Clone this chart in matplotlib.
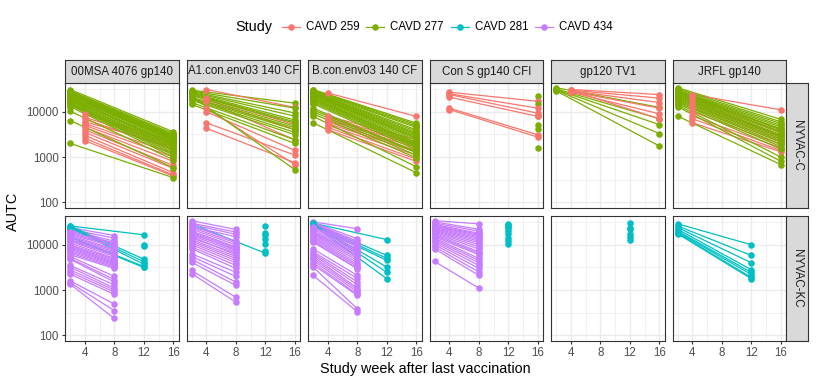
import numpy as np
import matplotlib
matplotlib.use("Agg")
import matplotlib.pyplot as plt
from matplotlib.lines import Line2D
from matplotlib.ticker import FixedLocator, NullFormatter, FuncFormatter

plt.rcParams['font.family'] = ['Liberation Sans', 'DejaVu Sans']

nan = np.nan

antigens = ["00MSA 4076 gp140", "A1.con.env03 140 CF", "B.con.env03 140 CF",
            "Con S gp140 CFI", "gp120 TV1", "JRFL gp140"]
vectors = ["NYVAC-C", "NYVAC-KC"]
studies = ["CAVD 259", "CAVD 277", "CAVD 281", "CAVD 434"]
colors = ["#F8766D", "#7CAE00", "#00BFC4", "#C77CFF"]
# first and last sampled week for each study
study_weeks = {"CAVD 259": (4, 16), "CAVD 277": (2, 16),
               "CAVD 281": (2, 12), "CAVD 434": (2, 8)}

# ---- NYVAC-C ----
c259_w4_msa = [8700, 7500, 6800, 6000, 5500, 5000, 4500, 4000, 3500, 3000, 2600, 2300]
c259_w16_msa = [2200, 1900, 1500, 1700, 1200, 1000, 800, 650, 560, 450, 400, 380]
c277_w2_msa = [31000, 29000, 28000, 27000, 26000, 25500, 25000, 24000, 23000, 22500,
               22000, 21000, 20000, 19500, 19000, 18000, 17500, 17000, 16000, 15500,
               15000, 14500, 14000, 13000, 10300, 6400, 2000]
c277_w16_msa = [3600, 3300, 3100, 2900, 3000, 2800, 2700, 2600, 2500, 2400,
                2300, 2200, 2000, 1900, 1800, 2100, 1700, 1600, 1500, 1400,
                1300, 1200, 1100, 1000, 870, 580, 350]

c259_w4_a1 = [31000, 20000, 18500, 17000, 10000, 5700, 4300, 12000]
c259_w16_a1 = [12500, 5200, 4000, 2400, 1400, 1100, 750, 680]
c277_w2_a1 = [30000, 29000, 28000, 27000, 26000, 25000, 24000, 23000, 22000, 21000,
              20000, 19000, 18000, 16000, 14500]
c277_w16_a1 = [15500, 12000, 9400, 8000, 6600, 6000, 5600, 4800, 525, 4400,
               4000, 3500, 3100, 2400, 2000]

c259_w4_bcon = [26000, 8000, 7500, 7000, 6500, 6000, 5500, 5000, 4500, 4000]
c259_w16_bcon = [7900, 2400, 2000, 1800, 1600, 1400, 1300, 1100, 900, 800]
c277_w2_bcon = [31000, 30000, 29000, 28000, 27000, 26500, 26000, 25000, 24000, 23500,
                23000, 22000, 21000, 20000, 19500, 19000, 18000, 17000, 16000, 15000,
                12000, 11000, 10000, 9000, 7900, 5700]
c277_w16_bcon = [5600, 5200, 4800, 4500, 4000, 3700, 3400, 3200, 3000, 2800,
                 2650, 2500, 2300, 2100, 2040, 1900, 1800, 1700, 1590, 1450,
                 1300, 1240, 1100, 960, 610, 450]

c259_w4_cons = [27000, 25000, 24000, 21000, 12000, 11200]
c259_w16_cons = [17000, 12000, 9300, 7900, 3100, 2750]
c277_w2_cons = [nan, nan, nan, nan, nan, nan]
c277_w16_cons = [22000, 14500, 7900, 5200, 4100, 1600]

c259_w4_gp120 = [31000, 30000, 29000, 28000, 27000, 29500]
c259_w16_gp120 = [24000, 20000, 16000, 12000, 9000, 7000]
c277_w2_gp120 = [34000, 32000, 31000, 30000, 29000]
c277_w16_gp120 = [12500, 7000, 5200, 3300, 1750]

c259_w4_jrfl = [24000, 22000, 20000, 18000, 16000, 14000, 12000, 10000, 8000, 7000, 5700]
c259_w16_jrfl = [11000, 4000, 3500, 3000, 2800, 2500, 2200, 1900, 1600, 1400, 1300]
c277_w2_jrfl = [34000, 32000, 30000, 29000, 28000, 27000, 26000, 25000, 24000, 23000,
                22000, 21000, 20000, 19000, 18000, 17000, 16000, 15000, 14000, 13000, 8000]
c277_w16_jrfl = [6800, 6000, 5500, 5000, 4600, 4200, 4000, 3700, 3400, 3100,
                 2900, 2700, 2500, 2300, 2100, 1900, 1700, 1500, 1000, 800, 680]

# ---- NYVAC-KC ----
c281_w2_msa = [26000, 26000, 25000, 24000, 15000, 14500, nan, nan]
c281_w12_msa = [16600, 4800, 4200, 3700, 3300, 3150, 10000, 9500]
c434_w2_msa = [24000, 22000, 21000, 20000, 19000, 18000, 17000, 16000, 15000, 14000,
               13000, 12500, 12000, 11000, 10000, 9500, 9000, 8500, 8000, 7500,
               7000, 6500, 6000, 5500, 5000, 4800, 3500, 3200, 2800, 2500,
               2240, 1600, 1450, 1350]
c434_w8_msa = [16000, 14000, 12000, 11000, 10500, 9500, 9000, 8000, 7500, 7000,
               6500, 6000, 5500, 5000, 4800, 4500, 4200, 4000, 3800, 3600,
               3400, 3200, 3000, 2000, 1700, 1500, 1300, 1100, 1000, 900,
               800, 490, 350, 235]

c281_w2_a1 = [29000, nan, nan, nan, nan, nan, nan]
c281_w12_a1 = [6500, 26000, 18500, 16600, 13600, 10500, 7100]
c434_w2_a1 = [34000, 30000, 28000, 26000, 25000, 24000, 22000, 20000, 19000, 18000,
              17000, 16000, 15000, 14000, 13000, 12000, 11000, 10000, 9000, 8200,
              6300, 5500, 4800, 4100, 2700, 2300]
c434_w8_a1 = [21800, 19000, 17000, 12000, 15000, 11000, 10000, 9000, 8500, 7500,
              8000, 7000, 6000, 6500, 5500, 5000, 4500, 4000, 3500, 3000,
              2470, 2000, 1490, 1260, 690, 540]

c281_w2_bcon = [30000, 29000, 28000, 27000, 28500, 29500, 27500]
c281_w12_bcon = [13000, 5800, 5000, 4500, 3200, 2450, 1770]
c434_w2_bcon = [32000, 31000, 30000, 29000, 28000, 27000, 26000, 25000, 24000, 22000,
                20000, 19000, 18000, 17000, 16000, 15000, 14000, 13000, 12000, 11400,
                8100, 7000, 6500, 6000, 5500, 5000, 4500, 4000, 3600, 3200, 2100]
c434_w8_bcon = [22600, 13600, 12000, 11000, 10000, 9500, 9000, 8000, 7500, 7000,
                6500, 6000, 5500, 5000, 4500, 4000, 3600, 3300, 3000, 2950,
                2100, 1800, 1500, 1300, 1100, 1000, 900, 800, 760, 385, 330]

c281_w2_cons = [nan, nan, nan, nan, nan, nan, nan, nan, nan]
c281_w12_cons = [29000, 27000, 25000, 23000, 20000, 17000, 14000, 12000, 10500]
c434_w2_cons = [34000, 32000, 30000, 28000, 27000, 26000, 25000, 24000, 23000, 22000,
                21000, 20000, 19000, 18000, 17000, 16000, 15000, 14000, 13000, 12000,
                11000, 10000, 9000, 8100, 4270]
c434_w8_cons = [29000, 22000, 20000, 18000, 17000, 16000, 15000, 14000, 13000, 12000,
                11000, 10000, 9000, 8000, 7000, 6500, 6000, 5000, 4500, 4000,
                3500, 3000, 2500, 2100, 1100]

c281_w2_gp120 = [nan, nan, nan, nan, nan, nan]
c281_w12_gp120 = [31000, 24000, 21800, 17500, 14800, 12900]

c281_w2_jrfl = [29000, 26000, 24000, 22000, 20000, 19000, 18000, 17500]
c281_w12_jrfl = [10000, 5800, 4000, 2800, 2450, 2200, 1900, 1770]

# row, column, study, first-visit values, last-visit values
series = [
    (0, 0, "CAVD 277", c277_w2_msa, c277_w16_msa),
    (0, 0, "CAVD 259", c259_w4_msa, c259_w16_msa),
    (0, 1, "CAVD 277", c277_w2_a1, c277_w16_a1),
    (0, 1, "CAVD 259", c259_w4_a1, c259_w16_a1),
    (0, 2, "CAVD 277", c277_w2_bcon, c277_w16_bcon),
    (0, 2, "CAVD 259", c259_w4_bcon, c259_w16_bcon),
    (0, 3, "CAVD 277", c277_w2_cons, c277_w16_cons),
    (0, 3, "CAVD 259", c259_w4_cons, c259_w16_cons),
    (0, 4, "CAVD 277", c277_w2_gp120, c277_w16_gp120),
    (0, 4, "CAVD 259", c259_w4_gp120, c259_w16_gp120),
    (0, 5, "CAVD 277", c277_w2_jrfl, c277_w16_jrfl),
    (0, 5, "CAVD 259", c259_w4_jrfl, c259_w16_jrfl),
    (1, 0, "CAVD 434", c434_w2_msa, c434_w8_msa),
    (1, 0, "CAVD 281", c281_w2_msa, c281_w12_msa),
    (1, 1, "CAVD 434", c434_w2_a1, c434_w8_a1),
    (1, 1, "CAVD 281", c281_w2_a1, c281_w12_a1),
    (1, 2, "CAVD 434", c434_w2_bcon, c434_w8_bcon),
    (1, 2, "CAVD 281", c281_w2_bcon, c281_w12_bcon),
    (1, 3, "CAVD 434", c434_w2_cons, c434_w8_cons),
    (1, 3, "CAVD 281", c281_w2_cons, c281_w12_cons),
    (1, 4, "CAVD 281", c281_w2_gp120, c281_w12_gp120),
    (1, 5, "CAVD 281", c281_w2_jrfl, c281_w12_jrfl),
]

W, H = 816, 384
fig = plt.figure(figsize=(W / 100, H / 100), dpi=100)


def add_ax(left, top, right, bottom):
    return fig.add_axes([left / W, 1 - bottom / H, (right - left) / W, (bottom - top) / H])


col_left = [65, 186.5, 308, 429.5, 551, 672.5]
panel_w = 113.5
row_top = [83, 216]
panel_h = 124.5
border = "#333333"
strip_fill = "#D9D9D9"

axes = {}
for r in range(2):
    for c in range(6):
        ax = add_ax(col_left[c], row_top[r], col_left[c] + panel_w, row_top[r] + panel_h)
        ax.set_yscale("log")
        ax.set_xlim(1.3, 16.7)
        ax.set_ylim(10 ** 1.885, 10 ** 4.635)
        ax.xaxis.set_major_locator(FixedLocator([4, 8, 12, 16]))
        ax.xaxis.set_minor_locator(FixedLocator([2, 6, 10, 14]))
        ax.yaxis.set_major_locator(FixedLocator([100, 1000, 10000]))
        ax.yaxis.set_minor_locator(FixedLocator([10 ** 2.5, 10 ** 3.5, 10 ** 4.5]))
        ax.yaxis.set_minor_formatter(NullFormatter())
        ax.yaxis.set_major_formatter(FuncFormatter(lambda v, p: "%d" % round(v)))
        ax.grid(which="major", color="#EBEBEB", lw=1.0)
        ax.grid(which="minor", color="#EBEBEB", lw=0.5)
        ax.set_axisbelow(True)
        for s in ax.spines.values():
            s.set_color(border)
            s.set_linewidth(0.8)
        ax.tick_params(which="major", length=2.4, width=0.8, color=border,
                       labelsize=8.3, labelcolor="#4D4D4D", pad=2.2)
        ax.tick_params(which="minor", length=0)
        ax.tick_params(axis="x", labelbottom=(r == 1))
        ax.tick_params(axis="y", labelleft=(c == 0))
        if r == 0:
            ax.tick_params(axis="x", length=0)
        if c != 0:
            ax.tick_params(axis="y", which="major", length=0)
        axes[(r, c)] = ax

# subjects of the studies sharing a panel are drawn interleaved,
# lines first, then points (geom_line + geom_point)
panel_series = {}
for r, c, study, first, last in series:
    panel_series.setdefault((r, c), []).append((study, first, last))

for key, items in panel_series.items():
    ax = axes[key]
    n = max(len(f) for _, f, _ in items)
    for i in range(n):
        for study, first, last in items:
            if i < len(first) and not np.isnan(first[i]):
                w0, w1 = study_weeks[study]
                ax.plot([w0, w1], [first[i], last[i]], color=colors[studies.index(study)],
                        lw=0.9, solid_capstyle="butt", zorder=2)
    for i in range(n):
        for study, first, last in items:
            if i >= len(first):
                continue
            col = colors[studies.index(study)]
            w0, w1 = study_weeks[study]
            if not np.isnan(first[i]):
                ax.plot([w0], [first[i]], "o", color=col, ms=4.7, mew=0, zorder=3)
            ax.plot([w1], [last[i]], "o", color=col, ms=4.7, mew=0, zorder=3)

# column strips
for c, name in enumerate(antigens):
    s = add_ax(col_left[c], 60, col_left[c] + panel_w, 83)
    s.set_facecolor(strip_fill)
    s.set_xticks([])
    s.set_yticks([])
    for sp in s.spines.values():
        sp.set_color(border)
        sp.set_linewidth(0.8)
    s.text(0.5, 0.5, name, ha="center", va="center", fontsize=8.3,
           color="#1A1A1A", transform=s.transAxes)

# row strips
for r, name in enumerate(vectors):
    s = add_ax(786, row_top[r], 808, row_top[r] + panel_h)
    s.set_facecolor(strip_fill)
    s.set_xticks([])
    s.set_yticks([])
    for sp in s.spines.values():
        sp.set_color(border)
        sp.set_linewidth(0.8)
    s.text(0.5, 0.5, name, ha="center", va="center", fontsize=8.3, rotation=-90,
           color="#1A1A1A", transform=s.transAxes)

fig.text(425.5 / W, 1 - 368.5 / H, "Study week after last vaccination",
         ha="center", va="center", fontsize=10.4)
fig.text(13 / W, 1 - 211 / H, "AUTC", ha="center", va="center",
         rotation=90, fontsize=10.4)

# legend
ly = 1 - 27 / H
fig.text(272.7 / W, ly, "Study", ha="right", va="center", fontsize=10.4)
for i, (name, col) in enumerate(zip(studies, colors)):
    x0 = 282 + 84.4 * i
    fig.add_artist(Line2D([x0 / W, (x0 + 18) / W], [ly, ly], color=col, lw=0.9,
                          transform=fig.transFigure))
    fig.add_artist(Line2D([(x0 + 9) / W], [ly], marker="o", color=col, ms=4.7, mew=0,
                          transform=fig.transFigure))
    fig.text((x0 + 24) / W, ly, name, ha="left", va="center", fontsize=8.3)

fig.savefig("out.png", dpi=100)
